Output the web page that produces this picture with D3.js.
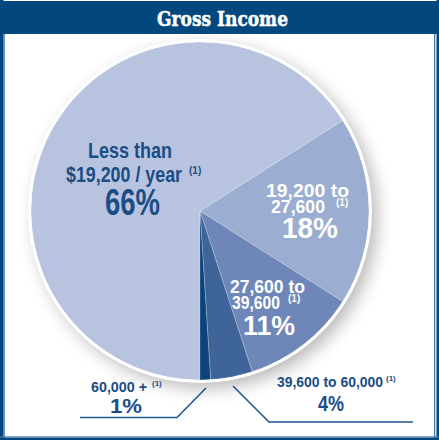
<!DOCTYPE html>
<html><head><meta charset="utf-8">
<script src="https://cdn.jsdelivr.net/npm/d3@7"></script>
<style>
html,body{margin:0;padding:0;background:#fff;}
svg{display:block;}
</style>
</head><body>
<svg id="chart" width="439" height="440"></svg>
<script>
const title = "Gross Income";
const categories = ["Less than $19,200 / year", "19,200 to 27,600", "27,600 to 39,600", "39,600 to 60,000", "60,000 +"];
const values = [66, 18, 11, 4, 1];
const colors = ["#b8c4df", "#9badd0", "#6f87b8", "#3f6499", "#0b437c"];
const footnote = "(1)";

const svg = d3.select("#chart");
const W = 439, H = 440;
const navy = "#03477f";

const defs = svg.append("defs");
const f = defs.append("filter").attr("id","sh").attr("x","-30%").attr("y","-30%").attr("width","160%").attr("height","160%");
f.append("feGaussianBlur").attr("in","SourceAlpha").attr("stdDeviation",9).attr("result","b");
f.append("feOffset").attr("in","b").attr("dx",6).attr("dy",6).attr("result","o");
f.append("feComponentTransfer").attr("in","o").attr("result","o2").append("feFuncA").attr("type","linear").attr("slope",0.3);
const m = f.append("feMerge"); m.append("feMergeNode").attr("in","o2"); m.append("feMergeNode").attr("in","SourceGraphic");

// frame
svg.append("rect").attr("x",0).attr("y",0).attr("width",3.5).attr("height",H).attr("fill",navy);
svg.append("rect").attr("x",3.5).attr("y",30).attr("width",1.3).attr("height",H-30).attr("fill","#4a78ad");
svg.append("rect").attr("x",436.5).attr("y",0).attr("width",2.5).attr("height",H).attr("fill",navy);
svg.append("rect").attr("x",434).attr("y",30).attr("width",1.3).attr("height",H-30).attr("fill","#4a78ad");
svg.append("rect").attr("x",0).attr("y",437.5).attr("width",W).attr("height",2.5).attr("fill",navy);
svg.append("rect").attr("x",0).attr("y",436.3).attr("width",W).attr("height",1.2).attr("fill","#4a78ad");

const cx = 200, cy = 211, r = 169;
const arcsData = d3.pie().sort(null).startAngle(Math.PI).endAngle(3*Math.PI).value(d=>d)(values);
const arc = d3.arc().innerRadius(0).outerRadius(r);
const g = svg.append("g").attr("transform",`translate(${cx},${cy})`);
g.append("circle").attr("r",r+1.5).attr("fill","#fff").attr("filter","url(#sh)");
g.selectAll("path.s").data(arcsData).join("path").attr("class","s")
  .attr("d",arc).attr("fill",(d,i)=>colors[i]).attr("stroke","#ffffff").attr("stroke-width",0.5).attr("stroke-opacity",0.45);
g.append("circle").attr("r",r+1.5).attr("fill","none").attr("stroke","#fff").attr("stroke-width",3);

// header
svg.append("rect").attr("x",1.5).attr("y",1).attr("width",436).attr("height",33).attr("fill",navy);
svg.append("text").attr("x",157).attr("y",25.5).attr("textLength",131).attr("lengthAdjust","spacingAndGlyphs")
  .attr("font-family","'DejaVu Serif',serif")
  .attr("font-weight","bold").attr("font-size",21).attr("fill","#fff")
  .attr("stroke","#fff").attr("stroke-width",0.5).text(title);

const ff = "'Liberation Sans',Arial,Helvetica,sans-serif";
function txt(t, x, y, s, len, fill, sup){
  svg.append("text").attr("x",x).attr("y",y).attr("font-family",ff).attr("font-weight","bold")
    .attr("font-size",s).attr("fill",fill).attr("textLength",len).attr("lengthAdjust","spacingAndGlyphs").text(t);
  if(sup){
    svg.append("text").attr("x",sup[0]).attr("y",sup[1]).attr("font-family",ff).attr("font-weight","bold")
      .attr("font-size",sup[2]).attr("fill",fill).text(footnote);
  }
}
const dark = "#1a4d85";
txt("Less than", 88, 158, 22, 84, dark);
txt("$19,200 / year", 66, 182, 22, 116, dark, [189, 174, 10]);
txt(values[0]+"%", 105, 215, 37, 55, dark);

txt("19,200 to", 266, 197, 18, 83, "#fff");
txt("27,600", 271, 213, 18, 54, "#fff", [336, 206, 10]);
txt(values[1]+"%", 282, 238, 30, 56, "#fff");

txt("27,600 to", 230, 293, 18, 75, "#fff");
txt("39,600", 232, 309, 18, 48, "#fff", [288, 302, 10]);
txt(values[2]+"%", 243, 335, 28, 52, "#fff");

txt("60,000 +", 91, 392, 14, 56, dark, [152, 386, 8]);
txt(values[4]+"%", 110, 413, 21, 32, dark);
txt("39,600 to 60,000", 277, 387, 14, 106, dark, [386, 381, 8]);
txt(values[3]+"%", 318, 411, 22, 26, dark);

const line = d3.line();
svg.append("path").attr("d",line([[80,417.5],[177,417.5],[206,388]])).attr("fill","none").attr("stroke","#1f5590").attr("stroke-width",1.6);
svg.append("path").attr("d",line([[233,386],[269,422],[413,422]])).attr("fill","none").attr("stroke","#1f5590").attr("stroke-width",1.6);
</script>
</body></html>
